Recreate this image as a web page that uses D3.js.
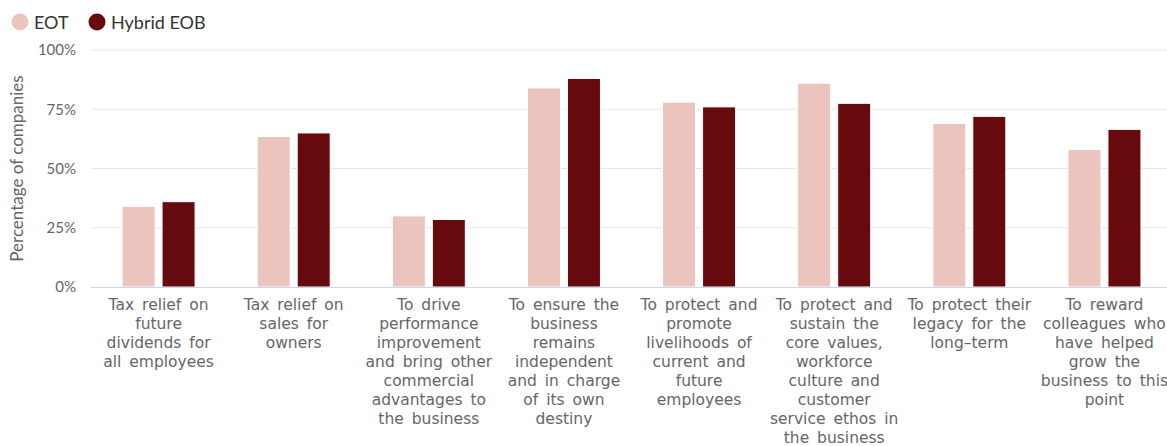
<!DOCTYPE html>
<html>
<head>
<meta charset="utf-8">
<script src="https://cdn.jsdelivr.net/npm/d3@7"></script>
<style>
  html, body { margin: 0; padding: 0; background: #fff; }
  svg { display: block; }
</style>
</head>
<body>
<svg id="chart" width="1167" height="446"></svg>
<script>
// Reasons for choosing each ownership model, share of companies (%)
const categories = [
  ["Tax relief on", "future", "dividends for", "all employees"],
  ["Tax relief on", "sales for", "owners"],
  ["To drive", "performance", "improvement", "and bring other", "commercial", "advantages to", "the business"],
  ["To ensure the", "business", "remains", "independent", "and in charge", "of its own", "destiny"],
  ["To protect and", "promote", "livelihoods of", "current and", "future", "employees"],
  ["To protect and", "sustain the", "core values,", "workforce", "culture and", "customer", "service ethos in", "the business"],
  ["To protect their", "legacy for the", "long\u2013term"],
  ["To reward", "colleagues who", "have helped", "grow the", "business to this", "point"]
];
const seriesNames = ["EOT", "Hybrid EOB"];
const eotValues = [34, 63.5, 30, 84, 78, 86, 69, 58];
const hybridValues = [36, 65, 28.5, 88, 76, 77.5, 72, 66.5];
const yTicks = [0, 25, 50, 75, 100];
const colors = ["#ebc5bd", "#660a0d"];

const svg = d3.select("#chart");
const plotLeft = 91, plotRight = 1172, plotTop = 50, plotBottom = 287;

const x0 = d3.scaleBand().domain(d3.range(categories.length)).range([plotLeft, plotRight]).paddingInner(0).paddingOuter(0);
const y = d3.scaleLinear().domain([0, 100]).range([plotBottom, plotTop]);

const uiFont = "Lato, 'Open Sans', sans-serif";

// gridlines
svg.append("g")
  .selectAll("line")
  .data(yTicks.filter(t => t > 0))
  .join("line")
  .attr("x1", plotLeft).attr("x2", plotRight)
  .attr("y1", d => y(d)).attr("y2", d => y(d))
  .attr("stroke", "#e6e6e6").attr("stroke-width", 1);

// y axis tick labels
const yAxis = d3.axisLeft(y).tickValues(yTicks).tickFormat(d => d + "%").tickSize(0).tickPadding(0);
const yg = svg.append("g").attr("transform", `translate(${76},0)`).call(yAxis);
yg.select(".domain").remove();
yg.selectAll("text")
  .attr("font-family", uiFont).attr("font-size", 15).attr("fill", "#666");

// y axis title
svg.append("text")
  .attr("transform", `translate(23,${(plotTop + plotBottom) / 2}) rotate(-90)`)
  .attr("text-anchor", "middle")
  .attr("font-family", uiFont).attr("font-size", 17).attr("fill", "#666")
  .text("Percentage of companies");

// bars
const barW = 33, gap = 7;
const groups = svg.append("g").selectAll("g")
  .data(categories.map((c, i) => ({ i, vals: [eotValues[i], hybridValues[i]] })))
  .join("g")
  .attr("transform", d => `translate(${x0(d.i) + x0.bandwidth() / 2},0)`);

groups.selectAll("rect")
  .data(d => d.vals.map((v, s) => ({ v, s })))
  .join("rect")
  .attr("x", d => d.s === 0 ? -(gap / 2 + barW) : gap / 2)
  .attr("width", barW)
  .attr("y", d => y(d.v))
  .attr("height", d => plotBottom - y(d.v))
  .attr("fill", d => colors[d.s])
  .attr("stroke", "#fff").attr("stroke-width", 1);

// x axis baseline
svg.append("line")
  .attr("x1", plotLeft).attr("x2", plotRight)
  .attr("y1", plotBottom + 0.5).attr("y2", plotBottom + 0.5)
  .attr("stroke", "#ccd6eb").attr("stroke-width", 1);

// category labels
const labels = svg.append("g").selectAll("text")
  .data(categories)
  .join("text")
  .attr("text-anchor", "middle")
  .attr("font-family", "'DejaVu Sans', Verdana, sans-serif")
  .attr("font-size", 15.5)
  .attr("word-spacing", 3)
  .attr("fill", "#666")
  .attr("transform", (d, i) => `translate(${x0(i) + x0.bandwidth() / 2},310)`);
labels.selectAll("tspan")
  .data(d => d)
  .join("tspan")
  .attr("x", 0)
  .attr("y", (d, j) => j * 19)
  .text(d => d);

// legend
const legend = svg.append("g").attr("font-family", uiFont).attr("font-size", 18).attr("fill", "#333");
const legendX = [20, 97];
seriesNames.forEach((name, s) => {
  legend.append("circle").attr("cx", legendX[s]).attr("cy", 22).attr("r", 8.5).attr("fill", colors[s]);
  legend.append("text").attr("x", legendX[s] + 14).attr("y", 29).text(name);
});
</script>
</body>
</html>
